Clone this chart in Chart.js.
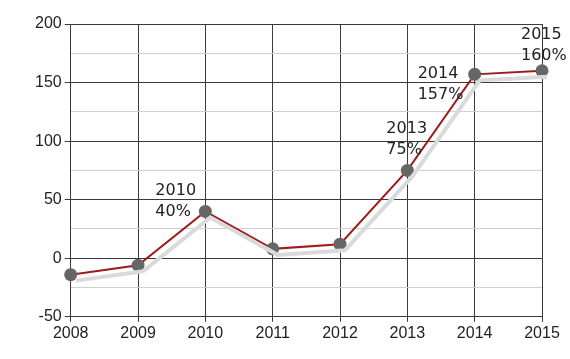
<html>
  <head>
    <meta charset="UTF-8">
    <title>Growth 2008-2015</title>
    <script src="https://cdn.jsdelivr.net/npm/chart.js@4.4.0/dist/chart.umd.min.js"></script>
    <style>
      body { margin: 0; background: #fff; }
    </style>
  </head>
  <body>
    <canvas id="chartGrowth" width="570" height="359"></canvas>

    <script>
      const years = ['2008', '2009', '2010', '2011', '2012', '2013', '2014', '2015'];
      const growth = [-14, -6, 40, 8, 12, 75, 157, 160];
      // which points get a "year / percent" label
      const labelled = [false, false, true, false, false, true, true, true];

      // label placement relative to the point (left edge, first line centre)
      const labelOffsets = {
        2: [-50, -21],
        5: [-21, -42],
        6: [-57, -1],
        7: [-21, -36]
      };

      // draws the grey shadow line shifted down/right
      const shadowShift = {
        id: 'shadowShift',
        beforeDatasetDraw(chart, args) {
          if (args.index === 0) {
            chart.ctx.save();
            chart.ctx.translate(5, 6);
          }
        },
        afterDatasetDraw(chart, args) {
          if (args.index === 0) {
            chart.ctx.restore();
          }
        }
      };

      const pointLabels = {
        id: 'pointLabels',
        afterDatasetsDraw(chart) {
          const ctx = chart.ctx;
          const meta = chart.getDatasetMeta(1);
          ctx.save();
          ctx.font = '16px "DejaVu Sans"';
          ctx.fillStyle = '#222';
          ctx.textAlign = 'left';
          ctx.textBaseline = 'middle';
          meta.data.forEach((pt, i) => {
            if (!labelled[i]) return;
            const off = labelOffsets[i];
            const x = pt.x + off[0];
            const y = pt.y + off[1];
            ctx.fillText(years[i], x, y);
            ctx.fillText(growth[i] + '%', x, y + 21);
          });
          ctx.restore();
        }
      };

      new Chart(document.getElementById('chartGrowth'), {
        type: 'line',
        data: {
          labels: years,
          datasets: [{
            data: growth,
            borderColor: '#dadada',
            borderWidth: 4,
            pointRadius: 0,
            tension: 0,
            clip: false
          }, {
            data: growth,
            borderColor: '#9e1b1b',
            borderWidth: 2,
            pointRadius: 6.5,
            pointBackgroundColor: '#666',
            pointBorderWidth: 0,
            tension: 0,
            clip: false
          }]
        },
        options: {
          responsive: false,
          animation: false,
          layout: {
            padding: { left: 32, top: 24, right: 28, bottom: 14 }
          },
          scales: {
            x: {
              offset: false,
              grid: {
                color: '#3a3a3a',
                tickColor: '#3a3a3a',
                tickLength: 5
              },
              border: { color: '#3a3a3a' },
              ticks: {
                color: '#222',
                font: { family: '"Liberation Sans"', size: 16 },
                padding: 2,
                maxRotation: 0
              }
            },
            y: {
              min: -50,
              max: 200,
              grid: {
                color: (c) => (c.tick.value % 50 === 0 ? '#3a3a3a' : '#cfcfcf'),
                tickColor: (c) => (c.tick.value % 50 === 0 ? '#3a3a3a' : 'rgba(0,0,0,0)'),
                tickLength: 6
              },
              border: { color: '#3a3a3a' },
              ticks: {
                stepSize: 25,
                color: '#222',
                font: { family: '"Liberation Sans"', size: 16 },
                padding: 3,
                callback: (v) => (v % 50 === 0 ? v : '')
              }
            }
          },
          plugins: {
            legend: { display: false },
            tooltip: { enabled: false }
          }
        },
        plugins: [shadowShift, pointLabels]
      });
    </script>
  </body>
</html>
